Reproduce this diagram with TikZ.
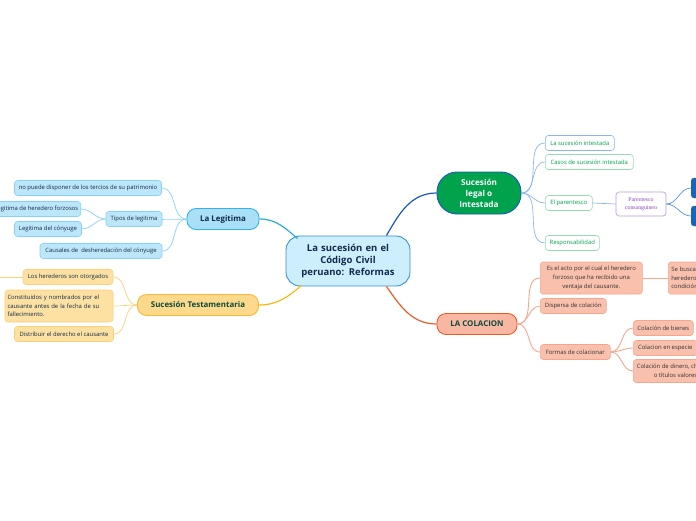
\documentclass[tikz,border=0pt]{standalone}
\usepackage{fontspec}
\setmainfont{Open Sans}
\newfontfamily\serifpar{Liberation Serif}
\usetikzlibrary{positioning}
\definecolor{navy}{HTML}{13294B}
\definecolor{centfill}{HTML}{CDEEFC}
\definecolor{centline}{HTML}{3B8FD6}
\definecolor{legfill}{HTML}{A9DFF7}
\definecolor{legline}{HTML}{35B2EA}
\definecolor{legleaf}{HTML}{BCE6F9}
\definecolor{legleafline}{HTML}{86D2F4}
\definecolor{tesfill}{HTML}{FDD98C}
\definecolor{tesline}{HTML}{F8B93A}
\definecolor{tesleaf}{HTML}{FDE1A2}
\definecolor{tesleafline}{HTML}{FAD17A}
\definecolor{intfill}{HTML}{00A24C}
\definecolor{intline}{HTML}{1A55C8}
\definecolor{intleafline}{HTML}{93DDB0}
\definecolor{intsub}{HTML}{8DB6EE}
\definecolor{purp}{HTML}{8A3FBE}
\definecolor{purpline}{HTML}{BC98D8}
\definecolor{darkblue}{HTML}{1565C0}
\definecolor{colfill}{HTML}{F8B7A3}
\definecolor{colline}{HTML}{EF5A2A}
\definecolor{colleaf}{HTML}{F9C0AD}
\definecolor{colleafline}{HTML}{F5A78D}
\definecolor{coltext}{HTML}{0E4B3A}
\definecolor{maintes}{HTML}{FDB813}
\definecolor{mainleg}{HTML}{2AACE3}
\begin{document}
\begin{tikzpicture}
	[x=1pt,y=1pt,
		leaf/.style={draw,rounded corners=3pt,line width=0.6pt,inner xsep=2.5pt,inner ysep=1.5pt,
			minimum height=15pt,font=\fontsize{5.9}{8.6}\selectfont,text=navy},
		legleafbox/.style={leaf,fill=legleaf,draw=legleafline},
		tesleafbox/.style={leaf,fill=tesleaf,draw=tesleafline},
		intleafbox/.style={leaf,fill=white,draw=intleafline,text=intfill},
		colleafbox/.style={leaf,fill=colleaf,draw=colleafline,text=black!80},
		branch/.style={draw,line width=0.9pt,rounded corners=9pt,minimum height=21pt,
			font=\bfseries\fontsize{7.9}{9}\selectfont},
		legcon/.style={legleafline,line width=0.7pt},
		tescon/.style={tesleafline,line width=0.7pt},
		intcon/.style={intsub,line width=0.7pt},
		colcon/.style={colleafline,line width=0.9pt},
		maincon/.style={line width=1.2pt}]
	\useasboundingbox (0,0) rectangle (696,-520);
	\clip (0,0) rectangle (696,-520);
	% central topic
	\node[draw=centline,fill=centfill,line width=0.9pt,rounded corners=14pt,minimum width=124pt,
		minimum height=50pt,text width=116pt,align=center,text=navy,
		font=\bfseries\fontsize{9.5}{12}\selectfont] (C) at (348,-261)
		{La sucesión en el\\Código Civil\\peruano: Reformas};
	% La Legitima
	\node[branch,fill=legfill,draw=legline,minimum width=72pt,text=navy] (leg) at (223,-219) {La Legitima};
	\node[legleafbox,minimum width=147pt] (leg1) at (88,-188) {no puede disponer de los tercios de su patrimonio};
	\node[legleafbox,minimum width=56pt] (leg2) at (134,-219) {Tipos de legitima};
	\node[legleafbox,anchor=east] (leg21) at (81,-209) {Legitima de heredero forzosos};
	\node[legleafbox,minimum width=67pt] (leg22) at (48,-229) {Legitima del cónyuge};
	\node[legleafbox,minimum width=122pt] (leg3) at (101,-251) {Causales de~ desheredación del cónyuge};
	% Sucesion Testamentaria
	\node[branch,fill=tesfill,draw=tesline,minimum width=121pt,text=coltext] (tes) at (198,-305) {Sucesión Testamentaria};
	\node[tesleafbox,minimum width=90pt] (tes1) at (68,-277) {Los herederos son otorgados};
	\node[tesleafbox,minimum width=108pt,minimum height=32pt,text width=103pt,align=left] (tes2) at (59,-306)
		{Constituidos y nombrados por el\\causante antes de la fecha de su\\fallecimiento.};
	\node[tesleafbox,minimum width=99pt] (tes3) at (64,-334) {Distribuir el derecho el causante};
	\coordinate (tes0) at (0,-277);
	% Sucesion legal o Intestada
	\node[branch,fill=intfill,draw=intline,rounded corners=20pt,minimum width=84pt,minimum height=42pt,
		align=center,text=white,font=\bfseries\fontsize{8.2}{11}\selectfont] (int) at (479,-193)
		{Sucesión\\legal o\\Intestada};
	\node[intleafbox,draw=intsub,anchor=west,minimum width=69pt] (int1) at (545,-143) {La sucesión intestada};
	\node[intleafbox,anchor=west,minimum width=88pt] (int2) at (545,-162) {Casos de sucesión intestada};
	\node[intleafbox,anchor=west,minimum width=47pt] (int3) at (545,-203) {El parentesco};
	\node[leaf,fill=white,draw=purpline,text=purp,minimum width=50pt,minimum height=24pt,align=center,
		font=\serifpar\fontsize{5.8}{7.5}\selectfont] (int31) at (641,-204) {Parentesco\\consanguineo};
	\node[draw=darkblue,fill=darkblue,rounded corners=3pt,anchor=west,minimum width=20pt,minimum height=20pt] (int311) at (691,-188) {};
	\node[draw=darkblue,fill=darkblue,rounded corners=3pt,anchor=west,minimum width=20pt,minimum height=20pt] (int312) at (691,-216) {};
	\node[intleafbox,anchor=west,minimum width=54pt] (int4) at (545,-243) {Responsabilidad};
	% La Colacion
	\node[branch,fill=colfill,draw=colline,minimum width=80pt,text=coltext] (col) at (477,-324) {LA COLACION};
	\node[colleafbox,anchor=west,minimum width=102pt,minimum height=32pt,align=center] (col1) at (540,-278)
		{Es el acto por el cual el heredero\\forzoso que ha recibido una\\ventaja del causante.};
	\node[colleafbox,anchor=west,minimum width=60pt,minimum height=32pt,text width=54pt,align=left] (col11) at (668,-278)
		{Se busca\\heredero\\condición};
	\node[colleafbox,anchor=west,minimum width=66pt] (col2) at (540,-306) {Dispersa de colación};
	\node[colleafbox,anchor=west,minimum width=70pt] (col3) at (540,-352) {Formas de colacionar};
	\node[colleafbox,anchor=west,minimum width=60pt] (col31) at (633,-328) {Colación de bienes};
	\node[colleafbox,anchor=west,minimum width=64pt] (col32) at (633,-348) {Colacion en especie};
	\node[colleafbox,anchor=west,minimum height=23pt,inner xsep=3.5pt,align=center] (col33) at (633,-371)
		{Colación de dinero, cheques\\o títulos valores};
	% main connectors
	\draw[maincon,mainleg] (leg.east) to[out=0,in=140] ([xshift=12pt,yshift=-3pt]C.north west);
	\draw[maincon,maintes] (tes.east) to[out=0,in=-140] ([xshift=16pt,yshift=1pt]C.south west);
	\draw[maincon,intline] ([xshift=-24pt]C.north east) to[out=60,in=180] (int.west);
	\draw[maincon,colline] ([xshift=-24pt]C.south east) to[out=-55,in=180] (col.west);
	% La Legitima connectors
	\draw[legcon] (leg.west) to[out=180,in=0] (leg1.east);
	\draw[legcon] (leg.west) to[out=180,in=0] (leg2.east);
	\draw[legcon] (leg.west) to[out=180,in=0] (leg3.east);
	\draw[legcon] (leg2.west) to[out=180,in=0] (leg21.east);
	\draw[legcon] (leg2.west) to[out=180,in=0] (leg22.east);
	% Testamentaria connectors
	\draw[tescon] (tes.west) to[out=180,in=0] (tes1.east);
	\draw[tescon] (tes.west) to[out=180,in=0] (tes2.east);
	\draw[tescon] (tes.west) to[out=180,in=0] (tes3.east);
	\draw[tescon] (tes0) -- (tes1.west);
	% Intestada connectors
	\draw[intcon] (int.east) to[out=0,in=180] (int1.west);
	\draw[intcon] (int.east) to[out=0,in=180] (int2.west);
	\draw[intcon] (int.east) to[out=0,in=180] (int3.west);
	\draw[intcon] (int.east) to[out=0,in=180] (int4.west);
	\draw[intcon] (int3.east) -- (int31.west);
	\draw[intcon,darkblue!70] (int31.east) to[out=0,in=180] (int311.west);
	\draw[intcon,darkblue!70] (int31.east) to[out=0,in=180] (int312.west);
	% Colacion connectors
	\draw[colcon] (col.east) to[out=0,in=180] (col1.west);
	\draw[colcon] (col.east) to[out=0,in=180] (col2.west);
	\draw[colcon] (col.east) to[out=0,in=180] (col3.west);
	\draw[colcon] (col1.east) -- (col11.west);
	\draw[colcon] (col3.east) to[out=0,in=180] (col31.west);
	\draw[colcon] (col3.east) to[out=0,in=180] (col32.west);
	\draw[colcon] (col3.east) to[out=0,in=180] (col33.west);
\end{tikzpicture}
\end{document}
